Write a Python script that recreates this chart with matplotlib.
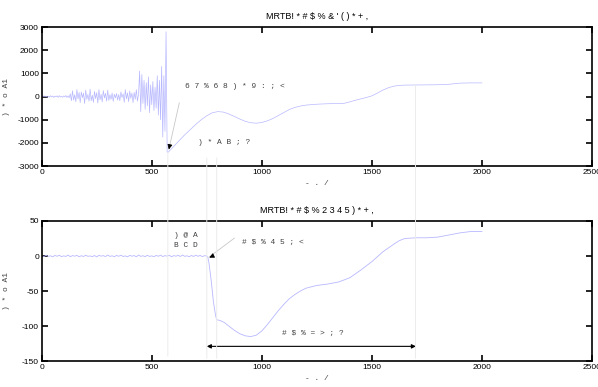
import numpy as np
import matplotlib.pyplot as plt
from matplotlib.patches import ConnectionPatch

# ---- data ----
# top signal: noisy part sampled every 5 units from 0
top_noise = [10, -20, 30, -10, 20, -30, 15, -25, 35, -15, 25, -40, 20, -10, 30, -35,
             40, -20, 10, -30, 25, -15, 45, -40, 30, -50,
             120, -180, 250, -150, 80, -220, 300, -100, 180, -260, 200, -50, 150, -300,
             280, -120, 90, -200, 320, -180, 60, -250, 220, -90, 170, -280, 300, -140,
             100, -230, 260, -60, 140, -200, 280, -170, 80, -120, 150, -210, 100, -60,
             130, -150, 90, -180, 200, -40, 120, -250, 300, -100, 160, -220, 240, -80,
             150, -260, 180, -120, 300, -200, 100,
             1100, -650, 950, -300, 700, -550, 600, -400, 850, -700, 500, -350, 650,
             -600, 400, -500, 900, -800, 700, -1000, 1300, -1750, 900, -1500, 2800, -2400]
# top signal: smooth part
top_x = [575, 600, 625, 650, 675, 700, 725, 750, 775, 800, 825, 850, 875, 900, 925,
         950, 975, 1000, 1025, 1050, 1075, 1100, 1125, 1150, 1175, 1200, 1250, 1300,
         1350, 1375, 1400, 1425, 1450, 1475, 1500, 1525, 1550, 1575, 1600, 1625, 1650,
         1700, 1750, 1800, 1850, 1900, 1950, 2000]
top_y = [-2400, -2150, -1900, -1650, -1430, -1200, -1000, -830, -700, -650, -670,
         -750, -860, -970, -1070, -1130, -1150, -1120, -1050, -950, -820, -690, -560,
         -470, -410, -370, -330, -310, -300, -290, -230, -160, -100, -40, 30, 150, 280,
         380, 450, 480, 495, 500, 505, 510, 530, 580, 590, 590]

# bottom signal: flat noisy part every 10 units from 0
bot_noise = [0.5, -0.8, 1.0, -0.5, 0.3, -1.2, 0.8, -0.4, 1.1, -0.9, 0.2, -0.6, 1.3,
             -1.0, 0.6, -0.3, 0.9, -1.1, 0.4, -0.7, 1.2, -0.5, 0.1, -0.9, 0.7, -1.3,
             1.0, -0.2, 0.5, -0.8, 1.4, -0.6, 0.3, -1.0, 0.8, -0.4, 1.1, -0.7, 0.2,
             -1.2, 0.9, -0.3, 0.6, -1.1, 1.3, -0.5, 0.4, -0.9, 1.0, -0.6, 0.2, -1.0,
             0.8, -0.4, 1.2, -0.8, 0.5, -0.2, 1.0, -1.1, 0.6, -0.3, 0.9, -0.7, 1.4,
             -0.5, 0.3, -1.0, 0.7, -0.6, 1.1, -0.4, 0.8, -0.9, 0.5]
bot_x = [750, 755, 760, 770, 780, 790, 795, 810, 830, 850, 875, 900, 925, 950, 975,
         1000, 1025, 1050, 1075, 1100, 1125, 1150, 1175, 1200, 1250, 1300, 1350, 1400,
         1450, 1500, 1550, 1600, 1625, 1650, 1700, 1750, 1800, 1850, 1900, 1950, 2000]
bot_y = [0, -2, -10, -35, -65, -85, -91, -92, -95, -100, -106, -111, -114, -115,
         -113, -107, -98, -88, -78, -69, -61, -55, -50, -46, -42, -40, -37, -31, -20,
         -8, 6, 17, 22, 25, 26, 26, 27, 30, 33, 35, 35]

marks = [573, 750, 795, 1698]
xticks = [0, 500, 1000, 1500, 2000, 2500]
top_yticks = [-3000, -2000, -1000, 0, 1000, 2000, 3000]
bot_yticks = [-150, -100, -50, 0, 50]

title_top = "MRTB! * # $ % & ' ( ) * + ,"
title_bot = "MRTB! * # $ % 2 3 4 5 ) * + ,"
ylab = ") * o A1"
xlab = "- . /"

# ---- figure ----
plt.rcParams['font.family'] = ['Liberation Sans', 'DejaVu Sans']
plt.rcParams['axes.unicode_minus'] = False
fig = plt.figure(figsize=(5.98, 3.87), dpi=100)
ax1 = fig.add_axes([0.0697, 0.571, 0.9203, 0.359])
ax2 = fig.add_axes([0.0697, 0.067, 0.9203, 0.362])

line_c = '#b8b8ff'
mono = {'family': 'Liberation Mono', 'size': 5.7, 'color': '#404040'}

x1 = np.concatenate([np.arange(len(top_noise)) * 5, top_x])
y1 = np.concatenate([top_noise, top_y])
ax1.plot(x1, y1, color=line_c, lw=0.5)

x2 = np.concatenate([np.arange(len(bot_noise)) * 10, bot_x])
y2 = np.concatenate([bot_noise, bot_y])
ax2.plot(x2, y2, color=line_c, lw=0.6)

for ax, yt, tt in [(ax1, top_yticks, title_top), (ax2, bot_yticks, title_bot)]:
    ax.set_xlim(0, 2500)
    ax.set_ylim(yt[0], yt[-1])
    ax.set_xticks(xticks)
    ax.set_yticks(yt)
    ax.tick_params(direction='in', length=4, width=1.2, labelsize=6, pad=2,
                   top=True, right=True)
    for s in ax.spines.values():
        s.set_linewidth(1.2)
    ax.set_title(tt, fontsize=6.5, pad=6)
    ax.set_xlabel(xlab, fontdict=mono, labelpad=3)
    ax.set_ylabel(ylab, fontdict=mono)
    ax.yaxis.set_label_coords(-0.058, 0.5)

# vertical marker lines running through both panels (very faint)
starts = [-2400, -2650, -2650, 500]
ends = [-143, -146, -146, -146]
for xm, ys, ye in zip(marks, starts, ends):
    cp = ConnectionPatch((xm, ys), (xm, ye), 'data', 'data', axesA=ax1, axesB=ax2,
                         color='#ececec', lw=0.7, zorder=5)
    fig.add_artist(cp)

# top annotations
ax1.text(650, 450, "6 7 % 6 8 ) * 9 : ; <", fontdict=mono, va='center')
ax1.annotate("", xy=(575, -2400), xytext=(628, -150),
             arrowprops=dict(arrowstyle='-', color='#c8c8c8', lw=0.6))
ax1.annotate("", xy=(575, -2400), xytext=(584, -2010),
             arrowprops=dict(arrowstyle='-|>', color='black', lw=0.6,
                             mutation_scale=7))
ax1.text(710, -1965, ") * A B ; ?", fontdict=mono, va='center')

# bottom annotations
ax2.text(601, 22, ") @ A\nB C D", fontdict=mono, va='center', linespacing=1.6)
ax2.text(909, 20, "# $ % 4 5 ; <", fontdict=mono, va='center')
ax2.annotate("", xy=(750, -4), xytext=(886, 28),
             arrowprops=dict(arrowstyle='-', color='#c8c8c8', lw=0.6))
ax2.annotate("", xy=(750, -4), xytext=(790, 2),
             arrowprops=dict(arrowstyle='-|>', color='black', lw=0.6,
                             mutation_scale=7))
ax2.text(1090, -111, "# $ % = > ; ?", fontdict=mono, va='center')
ax2.annotate("", xy=(750, -129), xytext=(1700, -129),
             arrowprops=dict(arrowstyle='<|-|>', color='black', lw=0.8,
                             mutation_scale=6, shrinkA=0, shrinkB=0))

fig.savefig('out.png', dpi=100)
